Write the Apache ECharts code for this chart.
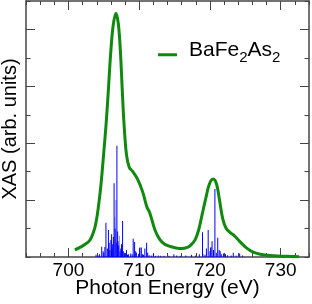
<!DOCTYPE html>
<html>
<head>
<meta charset="utf-8">
<script src="https://cdn.jsdelivr.net/npm/echarts@6/dist/echarts.min.js"></script>
<style>
html,body{margin:0;padding:0;background:#fff;}
#chart{width:312px;height:304px;}
</style>
</head>
<body>
<div id="chart"></div>
<script>
// Green XAS curve: photon energy (eV) and intensity (arb. units)
const curveE = [700.9, 701.5, 702.2, 703.05, 703.75, 704.2, 704.6, 705.0, 705.3, 705.6, 705.95, 706.3, 706.7, 707.05, 707.35, 707.6, 707.85, 708.2, 708.6, 709.1, 709.8, 710.5, 711.1, 711.5, 712.2, 712.9, 713.6, 714.4, 715.2, 716.0, 716.8, 717.3, 717.9, 718.4, 718.9, 719.4, 719.9, 720.45, 720.95, 721.35, 721.8, 722.3, 722.9, 723.4, 724.2, 725.2, 726.1, 727.1, 728.5, 730.0, 731.5, 732.6];
const curveV = [0.25, 0.32, 0.42, 0.60, 1.05, 1.70, 2.55, 3.70, 4.60, 5.70, 7.10, 8.10, 8.57, 8.20, 7.20, 5.90, 4.70, 3.60, 3.15, 3.00, 2.72, 2.28, 1.75, 1.55, 0.97, 0.62, 0.45, 0.37, 0.32, 0.30, 0.34, 0.42, 0.60, 0.95, 1.50, 2.05, 2.55, 2.74, 2.55, 2.00, 1.35, 1.00, 0.85, 0.76, 0.55, 0.31, 0.17, 0.10, 0.05, 0.03, 0.02, 0.01];

// Blue transition sticks (solid)
const stickE = [703.9, 704.2, 704.4, 704.7, 704.9, 705.0, 705.15, 705.3, 705.5, 705.65, 705.75, 705.85, 706.0, 706.1, 706.15, 706.25, 706.35, 706.45, 706.6, 706.75, 706.85, 706.95, 707.0, 707.1, 707.3, 707.4, 707.5, 707.65, 707.75, 707.9, 708.0, 708.2, 708.35, 708.5, 708.8, 709.0, 709.15, 709.35, 709.5, 709.6, 709.9, 710.0, 710.1, 710.3, 710.45, 710.6, 710.8, 711.05, 711.2, 711.4, 711.7, 712.0, 712.3, 712.7, 713.0, 713.5, 714.2, 714.9, 715.3, 715.8, 716.6, 717.4, 718.0, 718.5, 718.95, 719.0, 719.3, 719.5, 719.75, 720.0, 720.15, 720.3, 720.5, 720.7, 720.9, 721.1, 721.3, 721.45, 721.6, 721.9, 722.2, 722.5, 723.0, 723.3, 723.7, 724.2, 724.6];
const stickH = [0.08, 0.05, 0.10, 0.36, 0.20, 0.15, 0.35, 1.20, 0.30, 0.95, 0.50, 0.25, 0.60, 0.80, 0.30, 0.45, 0.70, 2.59, 1.00, 0.50, 3.91, 0.90, 0.55, 0.40, 0.20, 0.30, 0.45, 1.27, 0.20, 0.15, 0.10, 0.25, 0.08, 0.10, 0.12, 0.10, 0.64, 0.53, 0.20, 0.15, 0.10, 0.12, 0.33, 0.33, 0.10, 0.08, 0.30, 0.50, 0.15, 0.06, 0.05, 0.10, 0.04, 0.05, 0.04, 0.04, 0.04, 0.10, 0.05, 0.04, 0.05, 0.08, 0.05, 0.10, 0.87, 0.10, 0.08, 0.30, 0.95, 0.20, 0.35, 0.55, 0.25, 2.39, 0.15, 0.68, 0.25, 0.20, 0.10, 0.12, 0.10, 0.06, 0.05, 0.15, 0.05, 0.12, 0.05];
// Blue transition sticks (faint)
const faintE = [706.55, 706.7, 707.2];
const faintH = [1.40, 2.00, 0.75];

// Tick values
const xMajorTicks = [700, 710, 720, 730];
const yMajorTicks = [2, 4, 6, 8];

const GREEN = '#0f8a0f';
const BLUE = '#0000ff';
const AX = '#444';
const FONT = 'Liberation Sans, Arial, Helvetica, sans-serif';

function xAx(pos, major, extra) {
  return Object.assign({
    type: 'value', position: pos, min: 694, max: 734, interval: 2,
    axisLine: { show: !major, onZero: false, lineStyle: { color: AX, width: 1.5 } },
    axisTick: major
      ? { show: true, inside: true, length: 9, customValues: xMajorTicks, lineStyle: { color: AX, width: 1 } }
      : { show: true, inside: true, length: 4, lineStyle: { color: AX, width: 1 } },
    axisLabel: { show: false },
    splitLine: { show: false },
    nameMoveOverlap: false
  }, extra || {});
}
function yAx(pos, major, extra) {
  return Object.assign({
    type: 'value', position: pos, min: 0, max: 9, interval: 1,
    axisLine: { show: !major, onZero: false, lineStyle: { color: AX, width: 1.5 } },
    axisTick: major
      ? { show: true, inside: true, length: 9, customValues: yMajorTicks, lineStyle: { color: AX, width: 1 } }
      : { show: true, inside: true, length: 4.5, lineStyle: { color: AX, width: 1 } },
    axisLabel: { show: false },
    splitLine: { show: false },
    nameMoveOverlap: false
  }, extra || {});
}

const chart = echarts.init(document.getElementById('chart'), null, { renderer: 'canvas' });
chart.setOption({
  backgroundColor: '#fff',
  animation: false,
  textStyle: { fontFamily: FONT },
  grid: { left: 26, right: 3, top: 1, bottom: 47, containLabel: false, outerBoundsMode: 'none' },
  xAxis: [
    xAx('bottom', false),
    xAx('bottom', true, {
      axisLabel: { show: true, customValues: xMajorTicks, fontSize: 19, color: '#000', margin: 4, fontFamily: FONT },
      name: 'Photon Energy (eV)', nameLocation: 'middle', nameGap: 21,
      nameTextStyle: { fontSize: 21, color: '#000', fontFamily: FONT }
    }),
    xAx('top', false),
    xAx('top', true)
  ],
  yAxis: [
    yAx('left', false, {
      name: 'XAS (arb. units)', nameLocation: 'middle', nameGap: 6, nameRotate: 90,
      nameTextStyle: { fontSize: 20, color: '#000', fontFamily: FONT }
    }),
    yAx('left', true),
    yAx('right', false),
    yAx('right', true)
  ],
  legend: {
    show: true,
    data: ['BaFe2As2'],
    left: 158, top: 40, padding: 0,
    itemWidth: 19, itemHeight: 11.5,
    icon: 'path://M0,0L0,0M0,8.5L19,8.5L19,11.5L0,11.5Z',
    itemStyle: { color: GREEN },
    formatter: function () { return '{a|BaFe}{s|2}{a|As}{s|2}'; },
    textStyle: {
      padding: [0, 0, 0, 7],
      rich: {
        a: { fontSize: 21, lineHeight: 30, color: '#000', fontFamily: FONT },
        s: { fontSize: 15, lineHeight: 14, verticalAlign: 'bottom', color: '#000', fontFamily: FONT }
      }
    }
  },
  series: [
    {
      type: 'bar', name: 'sticks', xAxisIndex: 0, yAxisIndex: 0,
      barWidth: 1, barGap: '-100%',
      itemStyle: { color: BLUE },
      data: stickE.map((e, i) => [e, stickH[i]]),
      z: 2
    },
    {
      type: 'bar', name: 'sticksFaint', xAxisIndex: 0, yAxisIndex: 0,
      barWidth: 1, barGap: '-100%',
      itemStyle: { color: BLUE, opacity: 0.45 },
      data: faintE.map((e, i) => [e, faintH[i]]),
      z: 2
    },
    {
      type: 'line', name: 'BaFe2As2', xAxisIndex: 0, yAxisIndex: 0,
      data: curveE.map((e, i) => [e, curveV[i]]),
      smooth: 0.35, showSymbol: false, symbol: 'none',
      lineStyle: { color: GREEN, width: 3 },
      itemStyle: { color: GREEN },
      z: 3
    }
  ]
});
</script>
</body>
</html>
